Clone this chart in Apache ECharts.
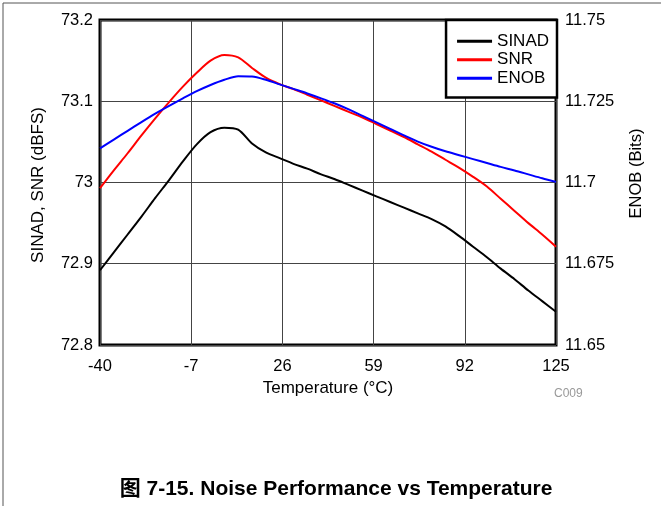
<!DOCTYPE html>
<html>
<head>
<meta charset="utf-8">
<script src="https://cdn.jsdelivr.net/npm/echarts@6/dist/echarts.min.js"></script>
<style>html,body{margin:0;padding:0;background:#fff;}#c{width:661px;height:506px;}</style>
</head>
<body>
<div id="c"></div>
<script>
const temps = [-40, -35, -30, -25, -20, -15, -10, -5, 0, 5, 10, 15, 20, 25, 30, 35, 40, 45, 50, 55, 60, 65, 70, 75, 80, 85, 90, 95, 100, 105, 110, 115, 120, 125];
const sinad = [72.892, 72.914, 72.936, 72.958, 72.981, 73.003, 73.026, 73.047, 73.062, 73.0675, 73.065, 73.048, 73.037, 73.030, 73.023, 73.017, 73.010, 73.004, 72.997, 72.990, 72.983, 72.976, 72.969, 72.962, 72.955, 72.946, 72.934, 72.921, 72.908, 72.894, 72.881, 72.867, 72.854, 72.841];
const snr   = [72.993, 73.015, 73.036, 73.058, 73.079, 73.099, 73.118, 73.135, 73.150, 73.157, 73.154, 73.141, 73.129, 73.121, 73.115, 73.108, 73.101, 73.094, 73.087, 73.080, 73.072, 73.064, 73.056, 73.047, 73.038, 73.028, 73.018, 73.007, 72.995, 72.980, 72.965, 72.950, 72.936, 72.921];
const enob  = [11.7105, 11.7132, 11.7159, 11.7186, 11.7212, 11.7236, 11.7259, 11.7281, 11.7300, 11.7316, 11.7327, 11.7326, 11.7316, 11.7302, 11.7288, 11.7274, 11.7259, 11.7243, 11.7225, 11.7205, 11.7185, 11.7165, 11.7145, 11.7126, 11.7110, 11.7096, 11.7084, 11.7072, 11.7060, 11.7048, 11.7037, 11.7025, 11.7013, 11.7002];
const xTicks = [-40, -7, 26, 59, 92, 125];
const leftTicks = [72.8, 72.9, 73.0, 73.1, 73.2];
const rightTicks = [11.65, 11.675, 11.7, 11.725, 11.75];

const FONT = '"Liberation Sans", Arial, "Noto Sans CJK SC", sans-serif';
const pair = (ys) => temps.map((t, i) => [t, ys[i]]);

const chart = echarts.init(document.getElementById('c'));
chart.setOption({
  animation: false,
  backgroundColor: '#fff',
  textStyle: { fontFamily: FONT },
  grid: { left: 100, right: 105, top: 20, bottom: 161, show: true, borderColor: '#000', borderWidth: 3, backgroundColor: 'transparent' },
  legend: {
    orient: 'vertical', right: 104, top: 20,
    backgroundColor: '#fff', borderColor: '#000', borderWidth: 2.5,
    padding: [12, 8, 10, 11], itemGap: 0, itemWidth: 35, itemHeight: 3, icon: 'rect',
    textStyle: { fontSize: 17, lineHeight: 18.5, color: '#000', fontFamily: FONT },
    data: ['SINAD', 'SNR', 'ENOB']
  },
  xAxis: {
    type: 'value', min: xTicks[0], max: xTicks[xTicks.length - 1], interval: 33,
    name: 'Temperature (°C)', nameLocation: 'middle', nameGap: 30,
    nameTextStyle: { fontSize: 17, color: '#000', fontFamily: FONT },
    axisLine: { show: false }, axisTick: { show: false },
    axisLabel: { fontSize: 16.5, color: '#000', margin: 13, fontFamily: FONT },
    splitLine: { show: true, lineStyle: { color: '#444', width: 1 } }
  },
  yAxis: [{
    type: 'value', min: leftTicks[0], max: leftTicks[leftTicks.length - 1], interval: 0.1,
    name: 'SINAD, SNR (dBFS)', nameLocation: 'middle', nameGap: 53,
    nameTextStyle: { fontSize: 17, color: '#000', fontFamily: FONT, padding: [0, 5, 0, 0] },
    axisLine: { show: false }, axisTick: { show: false },
    axisLabel: { fontSize: 16.5, color: '#000', margin: 7, fontFamily: FONT },
    splitLine: { show: true, lineStyle: { color: '#444', width: 1 } }
  }, {
    type: 'value', min: rightTicks[0], max: rightTicks[rightTicks.length - 1], interval: 0.025,
    name: 'ENOB (Bits)', nameLocation: 'middle', nameGap: 72,
    nameTextStyle: { fontSize: 16.5, color: '#000', fontFamily: FONT, padding: [0, 0, 0, 18] },
    axisLine: { show: false }, axisTick: { show: false },
    axisLabel: { fontSize: 16.5, color: '#000', margin: 9, fontFamily: FONT },
    splitLine: { show: false }
  }],
  series: [
    { name: 'SINAD', type: 'line', data: pair(sinad), smooth: 0.3, symbol: 'none', lineStyle: { color: '#000', width: 2 }, itemStyle: { color: '#000' }, z: 3 },
    { name: 'SNR', type: 'line', data: pair(snr), smooth: 0.3, symbol: 'none', lineStyle: { color: '#ff0000', width: 2 }, itemStyle: { color: '#ff0000' }, z: 3 },
    { name: 'ENOB', type: 'line', yAxisIndex: 1, data: pair(enob), smooth: 0.3, symbol: 'none', lineStyle: { color: '#0000ff', width: 2 }, itemStyle: { color: '#0000ff' }, z: 4 }
  ],
  graphic: [
    { type: 'line', shape: { x1: 3, y1: 3, x2: 661, y2: 3 }, style: { stroke: '#555', lineWidth: 1 } },
    { type: 'line', shape: { x1: 3, y1: 3, x2: 3, y2: 506 }, style: { stroke: '#555', lineWidth: 1 } },
    { type: 'text', x: 554, y: 388, style: { text: 'C009', fontSize: 12, fill: '#999', fontFamily: FONT } },
    { type: 'text', x: 336, y: 479, style: { text: '图 7-15. Noise Performance vs Temperature', fontSize: 21, fontWeight: 'bold', fill: '#000', fontFamily: FONT, align: 'center' } }
  ]
});
</script>
</body>
</html>
